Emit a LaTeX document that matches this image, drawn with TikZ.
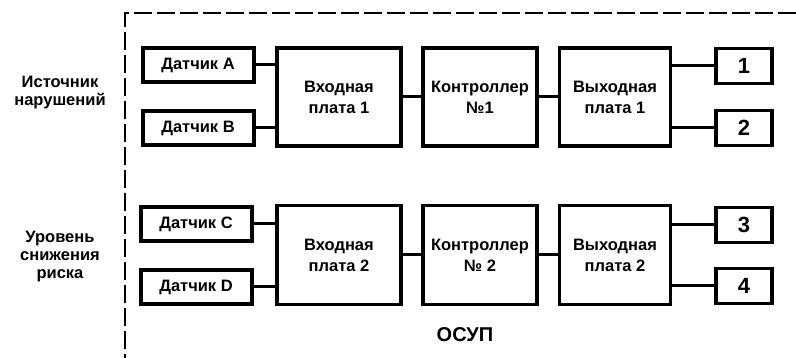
\documentclass[tikz,border=0pt]{standalone}
\usepackage{fontspec}
\setmainfont{Liberation Sans}
\begin{document}
\begin{tikzpicture}[x=1pt,y=-1pt,
  every node/.style={font=\bfseries\fontsize{16.5}{21}\selectfont},
  sensor/.style={draw,line width=4pt,minimum width=111pt,minimum height=34pt,inner sep=0pt},
  board/.style={draw,line width=3.2pt,minimum width=124pt,minimum height=98pt,align=center,inner sep=0pt},
  outbox/.style={draw,line width=3.2pt,minimum width=56pt,minimum height=35pt,inner sep=0pt,font=\bfseries\fontsize{22}{24}\selectfont},
  wire/.style={line width=3pt},
  frame/.style={line width=2.8pt,dash pattern=on 18pt off 5pt},
  lbl/.style={align=center,font=\bfseries\fontsize{16.5}{18}\selectfont}]
\useasboundingbox (0,0) rectangle (796,358);
% frame
\coordinate (ftl) at (125,13);
\coordinate (ftr) at (796,13);
\coordinate (fbl) at (125,358);
\draw[frame] (ftr) -- (ftl) -- (fbl);
% row 1
\node[sensor] (sa) at (198,65) {Датчик A};
\node[sensor] (sb) at (198,128) {Датчик B};
\node[board,minimum width=124pt] (in1) at (339,97) {Входная\\плата 1};
\node[board,minimum width=114pt] (c1) at (480,97) {Контроллер\\№1};
\node[board,minimum width=111pt] (o1) at (615,97) {Выходная\\плата 1};
\node[outbox] (q1) at (744,66) {1};
\node[outbox] (q2) at (744,128) {2};
% row 2
\node[sensor] (sc) at (196,224) {Датчик C};
\node[sensor] (sd) at (196,287) {Датчик D};
\node[board,minimum width=124pt,minimum height=99pt] (in2) at (339,255) {Входная\\плата 2};
\node[board,minimum width=114pt,minimum height=99pt] (c2) at (480,255) {Контроллер\\№ 2};
\node[board,minimum width=111pt,minimum height=99pt] (o2) at (615,255) {Выходная\\плата 2};
\node[outbox] (q3) at (744,225) {3};
\node[outbox] (q4) at (744,286) {4};
% wires
\draw[wire] (sa.east) -- (sa.east -| in1.west);
\draw[wire] (sb.east) -- (sb.east -| in1.west);
\draw[wire] (in1.east) -- (c1.west);
\draw[wire] (c1.east) -- (o1.west);
\draw[wire] (q1.west -| o1.east) -- (q1.west);
\draw[wire] (q2.west -| o1.east) -- (q2.west);
\draw[wire] (sc.east) -- (sc.east -| in2.west);
\draw[wire] (sd.east) -- (sd.east -| in2.west);
\draw[wire] (in2.east) -- (c2.west);
\draw[wire] (c2.east) -- (o2.west);
\draw[wire] (q3.west -| o2.east) -- (q3.west);
\draw[wire] (q4.west -| o2.east) -- (q4.west);
% labels
\node[lbl] (l1) at (60,93) {Источник\\нарушений};
\node[lbl] (l2) at (60,257) {Уровень\\снижения\\риска};
\node[font=\bfseries\fontsize{20}{22}\selectfont] (osup) at (465,335) {ОСУП};
\end{tikzpicture}
\end{document}
